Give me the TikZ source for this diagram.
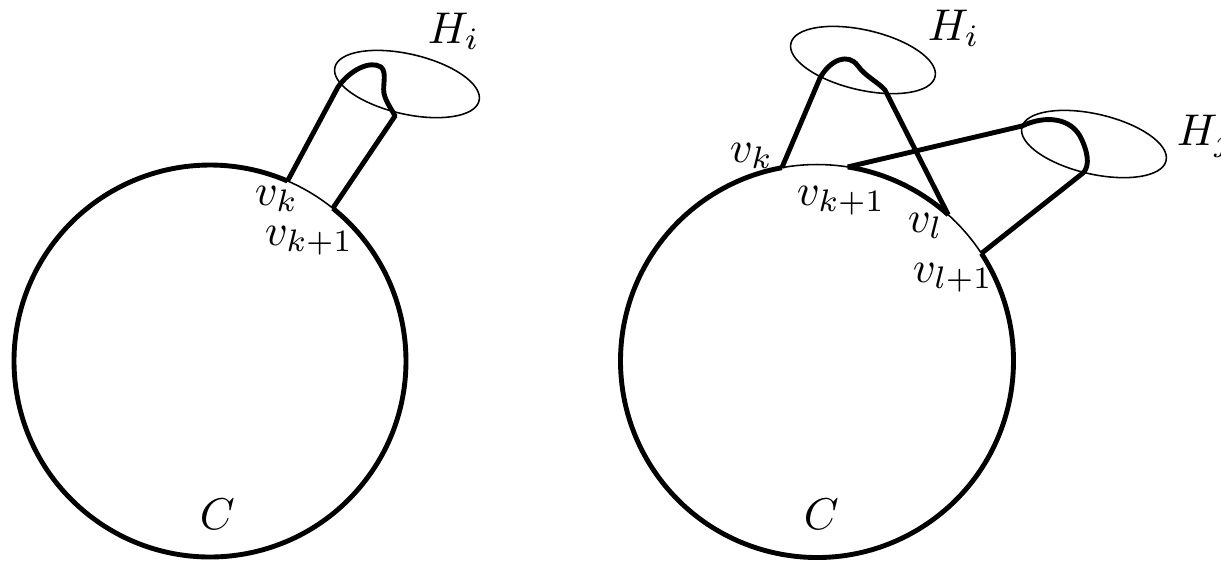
\documentclass[tikz,border=0pt]{standalone}
\usetikzlibrary{calc}
\begin{document}
\begin{tikzpicture}[x=0.225pt,y=0.225pt,
	heavy/.style={line width=1.1pt,line join=round},
	light/.style={line width=0.35pt},
	lbl/.style={anchor=base west,inner sep=0pt}]
	\useasboundingbox (0,0) rectangle (1221,-563);
	% left: one handle
	\coordinate (CL) at (210,-361);
	\coordinate (vkL) at ($(CL)+(66.7:196)$);
	\coordinate (vkoL) at ($(CL)+(51.2:196)$);
	\coordinate (HiL) at (407,-84);
		\draw[light] (CL) circle[radius=196];
		\draw[heavy] (vkoL) arc[start angle=51.2,end angle=-293.3,radius=196];
		\draw[light,rotate around={-13:(HiL)}] (HiL) ellipse[x radius=74,y radius=30];
		\draw[heavy] (vkL) -- (338,-87) .. controls (350,-70) and (370,-60) .. (381,-67)
			.. controls (388,-73) and (381,-88) .. (385,-97)
			.. controls (388,-105) and (392,-110) .. (395,-116) -- (vkoL);
	\node[lbl] (HiLl) at (427,-43) {$H_i$};
	\node[lbl] (vkLl) at (254,-205) {$v_k$};
	\node[lbl] (vkoLl) at (264,-245) {$v_{k+1}$};
	\node[lbl] (CLl) at (199,-529) {$C$};
	% right: two handles
	\coordinate (CR) at (817,-361);
	\coordinate (vkR) at ($(CR)+(100.3:196.5)$);
	\coordinate (vkoR) at ($(CR)+(81:196.5)$);
	\coordinate (vlR) at ($(CR)+(48.1:196.5)$);
	\coordinate (vloR) at ($(CR)+(33.2:196.5)$);
	\coordinate (HiR) at (863,-60);
	\coordinate (HjR) at (1094,-144);
		\draw[light] (CR) circle[radius=196.5];
		\draw[heavy] (vloR) arc[start angle=33.2,end angle=-259.7,radius=196.5];
		\draw[heavy] (vkoR) arc[start angle=81,end angle=48.1,radius=196.5];
		\draw[light,rotate around={-13:(HiR)}] (HiR) ellipse[x radius=74,y radius=30];
		\draw[light,rotate around={-13:(HjR)}] (HjR) ellipse[x radius=74,y radius=30];
		\draw[heavy] (vkR) -- (820,-78) .. controls (830,-60) and (848,-52) .. (858,-66)
			.. controls (865,-76) and (878,-82) .. (885,-90) -- (vlR);
		\draw[heavy] (vkoR) -- (1022,-126) .. controls (1045,-115) and (1072,-117) .. (1082,-140)
			.. controls (1090,-158) and (1088,-168) .. (1083,-173) -- (vloR);
	\node[lbl] (HiRl) at (927,-40) {$H_i$};
	\node[lbl] (HjRl) at (1176,-145) {$H_j$};
	\node[lbl] (vkRl) at (729,-162) {$v_k$};
	\node[lbl] (vkoRl) at (796,-205) {$v_{k+1}$};
	\node[lbl] (vlRl) at (907,-232) {$v_l$};
	\node[lbl] (vloRl) at (912,-282) {$v_{l+1}$};
	\node[lbl] (CRl) at (803,-529) {$C$};
\end{tikzpicture}
\end{document}
